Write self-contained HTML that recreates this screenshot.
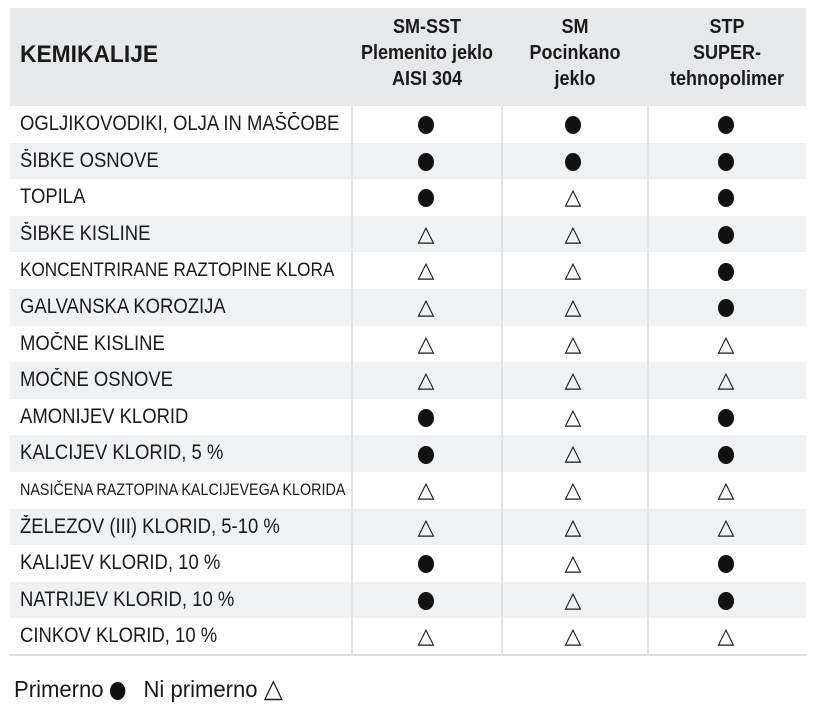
<!DOCTYPE html>
<html><head><meta charset="utf-8"><style>
body{margin:0;width:819px;height:705px;background:#fff;font-family:"Liberation Sans",sans-serif;color:#1a1a1a;position:relative;overflow:hidden}
.hdr{position:absolute;left:10px;top:8px;width:796px;height:98px;background:#e7e8ea}
.h{position:absolute;font-weight:bold;font-size:20px;text-align:center;line-height:26px;transform:scaleX(0.9)}
.row{position:absolute;left:10px;width:796px;height:36.6px}
.g{background:#f0f1f3}
.lbl{position:absolute;left:10px;font-size:21px;line-height:36.6px;white-space:nowrap;transform:scaleX(0.88);transform-origin:left center}
.s{position:absolute;width:40px;margin-left:-20px;text-align:center;font-size:22px;line-height:36.6px;top:0}
.dot{display:inline-block;width:16px;height:18px;border-radius:50%;background:#111;vertical-align:middle}
.vl{position:absolute;top:106px;height:549px;width:2px;background:#e2e3e5}
</style></head><body>
<div class="hdr"></div>
<div class="h" style="left:20px;top:42px;text-align:left;font-size:24px;transform:scaleX(0.95);transform-origin:left center">KEMIKALIJE</div>
<div class="h" style="left:352px;width:150px;top:14px">SM-SST<br>Plemenito jeklo<br>AISI 304</div>
<div class="h" style="left:502px;width:146px;top:14px">SM<br>Pocinkano<br>jeklo</div>
<div class="h" style="left:648px;width:158px;top:14px">STP<br>SUPER-<br>tehnopolimer</div>
<div id="rows"></div>
<div class="vl" style="left:351px"></div>
<div class="vl" style="left:501px"></div>
<div class="vl" style="left:647px"></div>
<div style="position:absolute;left:10px;top:654px;width:796px;height:2px;background:#dcdde0"></div>
<div style="position:absolute;left:14px;top:674px;font-size:23px;line-height:28px;white-space:nowrap;transform:scaleX(0.96);transform-origin:left center">Primerno <span class="dot"></span>&nbsp;&nbsp; Ni primerno <span style="font-size:26px">△</span></div>
<script>
var d=[["OGLJIKOVODIKI, OLJA IN MAŠČOBE","ooo"],["ŠIBKE OSNOVE","ooo"],["TOPILA","oto"],["ŠIBKE KISLINE","tto"],["KONCENTRIRANE RAZTOPINE KLORA","tto"],["GALVANSKA KOROZIJA","tto"],["MOČNE KISLINE","ttt"],["MOČNE OSNOVE","ttt"],["AMONIJEV KLORID","oto"],["KALCIJEV KLORID, 5 %","oto"],["NASIČENA RAZTOPINA KALCIJEVEGA KLORIDA","ttt"],["ŽELEZOV (III) KLORID, 5-10 %","ttt"],["KALIJEV KLORID, 10 %","oto"],["NATRIJEV KLORID, 10 %","oto"],["CINKOV KLORID, 10 %","ttt"]];
var xs=[426,573,726],h="";
d.forEach(function(r,i){var fs=i==10?"font-size:16.3px;":(i==4?"font-size:19.5px;":"");
h+='<div class="row'+(i%2?' g':'')+'" style="top:'+(106+i*36.6)+'px"><div class="lbl" style="'+fs+'">'+r[0]+'</div>';
for(var j=0;j<3;j++)h+='<div class="s" style="left:'+(xs[j]-10)+'px">'+(r[1][j]=="o"?'<span class="dot"></span>':'△')+'</div>';
h+='</div>';});
document.getElementById("rows").innerHTML=h;
</script>
</body></html>
